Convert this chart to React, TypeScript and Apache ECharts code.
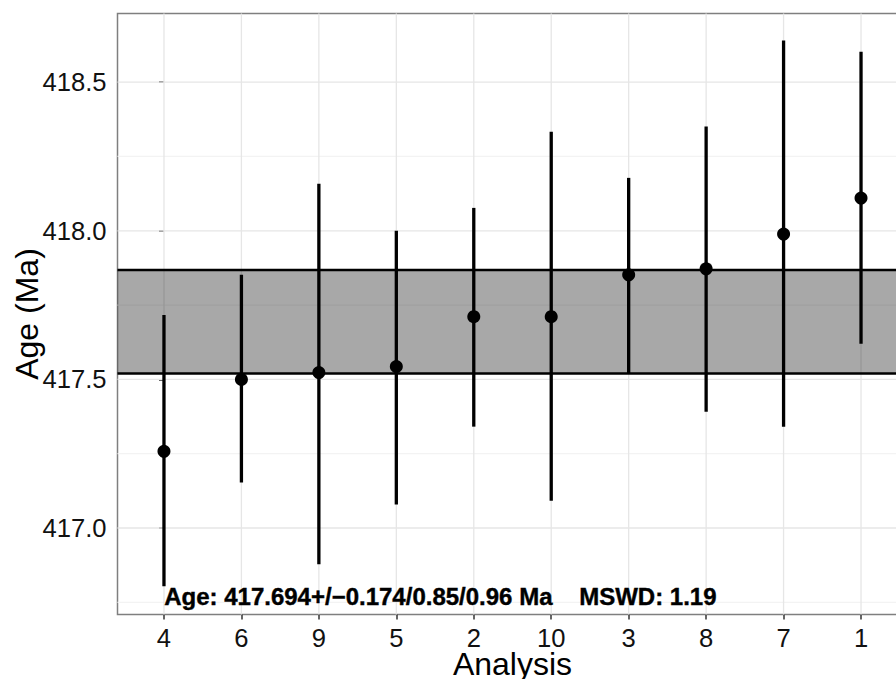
import React, { useEffect, useRef } from "react";
import * as echarts from "echarts";

const categories = ["4", "6", "9", "5", "2", "10", "3", "8", "7", "1"];
const ages = [417.258, 417.5, 417.523, 417.543, 417.711, 417.711, 417.852, 417.872, 417.989, 418.11];
const lows = [416.804, 417.153, 416.878, 417.079, 417.341, 417.092, 417.519, 417.391, 417.341, 417.62];
const highs = [417.717, 417.852, 418.158, 418.0, 418.077, 418.333, 418.178, 418.351, 418.64, 418.602];
const weightedAge = 417.694;
const weightedErr = 0.174;
const yTicks = [417.0, 417.5, 418.0, 418.5];
const yMinor = [416.75, 417.25, 417.75, 418.25];
const xTitle = "Analysis";
const yTitle = "Age (Ma)";
const annotation = "Age: 417.694+/\u22120.174/0.85/0.96 Ma    MSWD: 1.19";

const FONT = "'Liberation Sans', Arial, Helvetica, sans-serif";

export default function App() {
  const ref = useRef<HTMLDivElement>(null);
  useEffect(() => {
    document.body.style.margin = "0";
    const chart = echarts.init(ref.current!, null, { renderer: "svg" });
    const idx = categories.map((_, i) => i);
    const hLine = (color: string, width: number) => (params: any, api: any) => {
      const cs = params.coordSys;
      const y = api.coord([0, api.value(1)])[1];
      return {
        type: "line",
        shape: { x1: cs.x, y1: y, x2: cs.x + cs.width, y2: y },
        style: { stroke: color, lineWidth: width },
      };
    };
    const option: any = {
      animation: false,
      backgroundColor: "#ffffff",
      grid: {
        left: 117.5,
        right: -11.5,
        top: 13.5,
        bottom: 64.5,
        containLabel: false,
        outerBoundsMode: "none",
        show: true,
        borderColor: "#7f7f7f",
        borderWidth: 1.5,
        backgroundColor: "transparent",
      },
      xAxis: {
        type: "value",
        min: -0.6,
        max: 9.6,
        axisLine: { show: false },
        splitLine: { show: false },
        axisTick: { show: true, customValues: idx, length: 5, lineStyle: { color: "#333", width: 1.5 } },
        axisLabel: {
          customValues: idx,
          formatter: (v: number) => categories[Math.round(v)] ?? "",
          fontSize: 25.6,
          color: "#111",
          fontFamily: FONT,
          margin: 10,
        },
      },
      yAxis: {
        type: "value",
        min: 416.709,
        max: 418.731,
        axisLine: { show: false },
        splitLine: { show: false },
        axisTick: { show: true, customValues: yTicks, length: 5, lineStyle: { color: "#333", width: 1.5 } },
        axisLabel: {
          customValues: yTicks,
          formatter: (v: number) => v.toFixed(1),
          fontSize: 25.6,
          color: "#111",
          fontFamily: FONT,
          margin: 11,
        },
      },
      series: [
        {
          type: "custom",
          name: "minorGrid",
          z: 1,
          silent: true,
          data: yMinor.map((v) => [0, v]),
          encode: { x: 0, y: 1 },
          renderItem: hLine("#f3f3f3", 1.2),
        },
        {
          type: "custom",
          name: "majorGridH",
          z: 1,
          silent: true,
          data: yTicks.map((v) => [0, v]),
          encode: { x: 0, y: 1 },
          renderItem: hLine("#e6e6e6", 1.3),
        },
        {
          type: "custom",
          name: "majorGridV",
          z: 1,
          silent: true,
          data: idx.map((i) => [i, 417]),
          encode: { x: 0, y: 1 },
          renderItem: (params: any, api: any) => {
            const cs = params.coordSys;
            const x = api.coord([api.value(0), 417])[0];
            return {
              type: "line",
              shape: { x1: x, y1: cs.y, x2: x, y2: cs.y + cs.height },
              style: { stroke: "#e6e6e6", lineWidth: 1.3 },
            };
          },
        },
        {
          type: "custom",
          name: "band",
          z: 2,
          silent: true,
          data: [[0, weightedAge - weightedErr, weightedAge + weightedErr]],
          encode: { x: 0, y: [1, 2] },
          renderItem: (params: any, api: any) => {
            const cs = params.coordSys;
            const yLo = api.coord([0, api.value(1)])[1];
            const yHi = api.coord([0, api.value(2)])[1];
            return {
              type: "group",
              children: [
                {
                  type: "rect",
                  shape: { x: cs.x, y: yHi, width: cs.width, height: yLo - yHi },
                  style: { fill: "rgba(0,0,0,0.34)" },
                },
                {
                  type: "line",
                  shape: { x1: cs.x, y1: yHi, x2: cs.x + cs.width, y2: yHi },
                  style: { stroke: "#000", lineWidth: 2.4 },
                },
                {
                  type: "line",
                  shape: { x1: cs.x, y1: yLo, x2: cs.x + cs.width, y2: yLo },
                  style: { stroke: "#000", lineWidth: 2.4 },
                },
              ],
            };
          },
        },
        {
          type: "custom",
          name: "errorbars",
          z: 3,
          silent: true,
          data: idx.map((i) => [i, lows[i], highs[i]]),
          encode: { x: 0, y: [1, 2] },
          renderItem: (params: any, api: any) => {
            const p1 = api.coord([api.value(0), api.value(1)]);
            const p2 = api.coord([api.value(0), api.value(2)]);
            return {
              type: "line",
              shape: { x1: p1[0], y1: p1[1], x2: p2[0], y2: p2[1] },
              style: { stroke: "#000", lineWidth: 3.3 },
            };
          },
        },
        {
          type: "scatter",
          name: "ages",
          z: 4,
          symbol: "circle",
          symbolSize: 13,
          itemStyle: { color: "#000", opacity: 1 },
          data: idx.map((i) => [i, ages[i]]),
        },
      ],
      graphic: [
        {
          type: "text",
          left: 164,
          top: 584,
          style: {
            text: annotation,
            fontSize: 24,
            fontWeight: "bold",
            fill: "#000",
            stroke: "#000",
            lineWidth: 0.4,
            fontFamily: FONT,
          },
          z: 10,
        },
        {
          type: "text",
          x: 512.5,
          y: 664,
          style: {
            text: xTitle,
            fontSize: 32,
            fill: "#000",
            fontFamily: FONT,
            align: "center",
            verticalAlign: "middle",
          },
          z: 10,
        },
        {
          type: "text",
          x: 27,
          y: 314,
          rotation: Math.PI / 2,
          style: {
            text: yTitle,
            fontSize: 32,
            fill: "#000",
            fontFamily: FONT,
            align: "center",
            verticalAlign: "middle",
          },
          z: 10,
        },
      ],
    };
    chart.setOption(option);
    return () => chart.dispose();
  }, []);
  return <div ref={ref} style={{ width: 896, height: 679 }} />;
}
